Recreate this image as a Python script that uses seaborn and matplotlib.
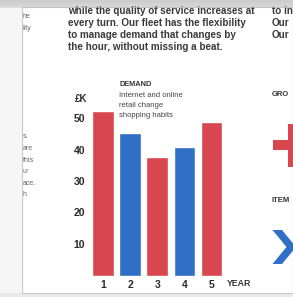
import matplotlib
matplotlib.use("Agg")
import matplotlib.pyplot as plt
import matplotlib.patches as mpatches
import seaborn as sns
import pandas as pd

# dane
years = ["1", "2", "3", "4", "5"]
demand = [52.3, 45.3, 37.7, 40.7, 48.8]
bar_colors = ["#d8464f", "#2f6fc6", "#d8464f", "#2f6fc6", "#d8464f"]
y_ticks = [10, 20, 30, 40, 50]

para_lines = [
    "while the quality of service increases at",
    "every turn. Our fleet has the flexibility",
    "to manage demand that changes by",
    "the hour, without missing a beat.",
]
note_lines = ["Internet and online", "retail change", "shopping habits"]
left_frag = ["he", "lity"]
left_frag2 = ["s.", "are", "this", "ur", "ace.", "h"]
right_frag = ["to in", "Our", "Our"]

W, H = 293, 297


def fx(px):
    return px / W


def fy(py):
    return 1 - py / H


sns.set_theme(style="white")
plt.rcParams["font.family"] = ["Liberation Sans", "DejaVu Sans"]

fig = plt.figure(figsize=(2.93, 2.97), dpi=100)
fig.patch.set_facecolor("#e9e9e9")

# strona (pod osiami)
page = mpatches.Rectangle((fx(22), fy(293)), fx(293 - 22), (293 - 7) / H,
                          transform=fig.transFigure, facecolor="white",
                          edgecolor="#c8c8c8", lw=0.8, zorder=-2)
fig.patches.append(page)
fig.patches.append(mpatches.Rectangle((0, fy(293)), fx(22), (293 - 7) / H,
                                      transform=fig.transFigure,
                                      facecolor="#f6f6f6", lw=0, zorder=-2))

df = pd.DataFrame({"year": years, "demand": demand})

ax = fig.add_axes([fx(89.2), (H - 275.5) / H, fx(136), 189 / H])
ax.set_facecolor("none")
sns.barplot(data=df, x="year", y="demand", hue="year", palette=bar_colors,
            width=0.8, legend=False, ax=ax, saturation=1)
ax.set_xlim(-0.5, 4.5)
ax.set_ylim(0, 60)
ax.set_yticks(y_ticks)
ax.set_xlabel("")
ax.set_ylabel("")
sns.despine(ax=ax, left=True, bottom=True)
ax.tick_params(axis="both", length=0, labelsize=7.5, colors="#2b2b2b")
ax.tick_params(axis="y", pad=3)
ax.tick_params(axis="x", pad=3.5)
for lbl in ax.get_xticklabels() + ax.get_yticklabels():
    lbl.set_fontweight("bold")

dark = "#333333"
fig.text(fx(87), fy(99), "£K", ha="right", va="center", fontsize=7,
         fontweight="bold", color=dark)
fig.text(fx(119), fy(85), "DEMAND", ha="left", va="center", fontsize=5.3,
         fontweight="bold", color=dark)
for i, t in enumerate(note_lines):
    fig.text(fx(119), fy(95.5 + 10 * i), t, ha="left", va="center",
             fontsize=5.5, color="#444444")
fig.text(fx(227), fy(283.5), "YEAR", ha="left", va="center", fontsize=6.3,
         fontweight="bold", color=dark)

# akapit nad wykresem
for i, t in enumerate(para_lines):
    fig.text(fx(68), fy(11.5 + 11.7 * i), t, ha="left", va="center",
             fontsize=7.1, fontweight="bold", color="#3a3a3a")

# fragmenty sąsiednich kolumn
for i, t in enumerate(left_frag):
    fig.text(fx(22.5), fy(17 + 11 * i), t, ha="left", va="center",
             fontsize=5, color="#666666")
for i, t in enumerate(left_frag2):
    fig.text(fx(22.5), fy(137 + 11.6 * i), t, ha="left", va="center",
             fontsize=5, color="#666666")
for i, t in enumerate(right_frag):
    fig.text(fx(272), fy(11.5 + 11.7 * i), t, ha="left", va="center",
             fontsize=7.1, fontweight="bold", color="#3a3a3a")
fig.text(fx(272), fy(95), "GRO", ha="left", va="center", fontsize=5.5,
         fontweight="bold", color=dark)
fig.text(fx(272), fy(201), "ITEM", ha="left", va="center", fontsize=5.5,
         fontweight="bold", color=dark)

# czerwony plus i niebieski szewron (ikony obok)
fig.patches.append(mpatches.Rectangle((fx(272.5), fy(150)), fx(25), 10.5 / H,
                                      transform=fig.transFigure,
                                      facecolor="#d8464f", lw=0))
fig.patches.append(mpatches.Rectangle((fx(287.5), fy(167)), fx(10), 43.5 / H,
                                      transform=fig.transFigure,
                                      facecolor="#d8464f", lw=0))
chev = [(272.5, 230), (282, 230), (296, 247), (282, 264), (272.5, 264),
        (286.5, 247)]
fig.patches.append(mpatches.Polygon([(fx(x), fy(y)) for x, y in chev],
                                    closed=True, transform=fig.transFigure,
                                    facecolor="#2f6fc6", lw=0))

# cień u góry
for k, a in enumerate([0.35, 0.25, 0.15, 0.08]):
    fig.patches.append(mpatches.Rectangle((0, fy(2 * (k + 1))), 1, 2 / H,
                                          transform=fig.transFigure,
                                          facecolor="#bdbdbd", alpha=a + 0.3,
                                          lw=0, zorder=5))

fig.savefig("out.png", dpi=100)
